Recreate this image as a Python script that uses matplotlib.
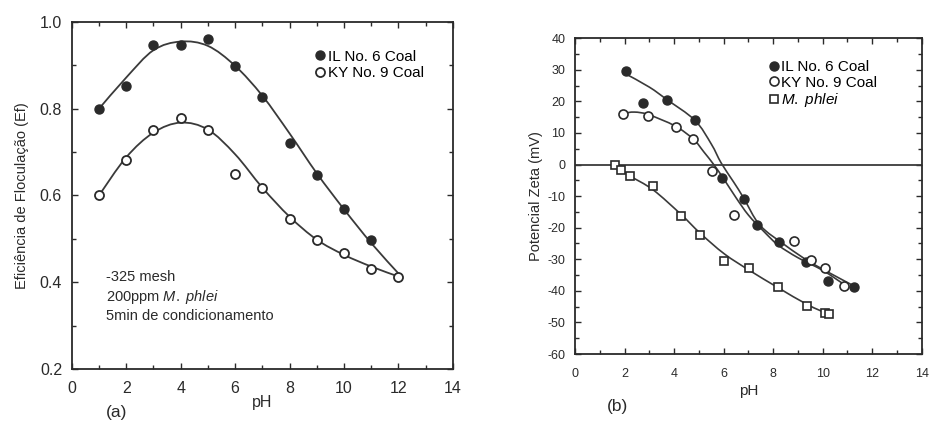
"""
Flocculation efficiency and zeta potential vs pH (M. phlei / coal)
"""

import numpy as np
import matplotlib.pyplot as plt
from matplotlib.path import Path
from matplotlib.patches import PathPatch
from matplotlib.ticker import MultipleLocator

plt.rcParams['font.family'] = ['Liberation Sans', 'DejaVu Sans']
plt.rcParams['mathtext.fontset'] = 'custom'
plt.rcParams['mathtext.rm'] = 'Liberation Sans'
plt.rcParams['mathtext.it'] = 'Liberation Sans:italic'
plt.rcParams['axes.unicode_minus'] = False

# (a) flocculation efficiency
ph_a = [1, 2, 3, 4, 5, 6, 7, 8, 9, 10, 11]
ef_il = [0.80, 0.852, 0.948, 0.948, 0.962, 0.899, 0.828, 0.720, 0.648, 0.568, 0.498]
ph_a_ky = [1, 2, 3, 4, 5, 6, 7, 8, 9, 10, 11, 12]
ef_ky = [0.601, 0.682, 0.751, 0.778, 0.752, 0.650, 0.618, 0.546, 0.498, 0.467, 0.430, 0.413]

# fitted curves
ph_fit_il = [1.0, 2, 3, 4, 5, 6, 7, 8, 9, 10, 11, 12]
fit_il = [0.80, 0.872, 0.935, 0.955, 0.945, 0.899, 0.83, 0.743, 0.651, 0.568, 0.49, 0.42]
ph_fit_ky = [1.0, 2, 3, 4, 5, 6, 7, 8, 9, 10, 11, 12]
fit_ky = [0.60, 0.688, 0.745, 0.768, 0.752, 0.695, 0.618, 0.551, 0.498, 0.463, 0.436, 0.413]

# (b) zeta potential
ph_b_il = [2.06, 2.76, 3.73, 4.83, 5.94, 6.84, 7.34, 8.25, 9.33, 10.2, 11.28]
zeta_il = [29.5, 19.6, 20.3, 14.0, -4.2, -10.8, -19.2, -24.5, -30.8, -36.8, -38.9]
ph_b_ky = [1.95, 2.93, 4.08, 4.75, 5.52, 6.43, 8.86, 9.53, 10.1, 10.87]
zeta_ky = [16.1, 15.2, 11.9, 8.2, -2.0, -16.1, -24.2, -30.3, -32.9, -38.4]
ph_b_mp = [1.63, 1.84, 2.23, 3.15, 4.28, 5.06, 6.03, 7.04, 8.18, 9.37, 10.1, 10.24]
zeta_mp = [0.0, -1.6, -3.7, -6.9, -16.4, -22.2, -30.5, -32.9, -38.9, -44.8, -47.1, -47.4]

ph_fit_b_il = [2.02, 3.0, 3.7, 4.84, 5.5, 5.9, 6.4, 6.8, 7.3, 7.7, 8.3, 9.3, 10.2, 11.3]
fit_b_il = [28.8, 24.5, 20.6, 14.0, 6.5, 0.5, -5.5, -10.5, -17.5, -21.0, -24.5, -30.0, -34.0, -38.6]
ph_fit_b_ky = [1.95, 2.4, 2.96, 4.04, 4.78, 5.2, 5.6, 6.0, 6.5, 7.0, 7.6, 8.2, 9.0, 10.0, 10.87]
fit_b_ky = [16.2, 16.6, 15.8, 12.2, 8.0, 4.0, 0.0, -4.5, -10.5, -16.0, -21.0, -25.5, -29.5, -33.5, -38.0]
ph_fit_b_mp = [1.63, 2.2, 3.15, 4.28, 5.06, 6.03, 7.04, 8.18, 9.37, 10.24]
fit_b_mp = [0.0, -3.5, -8.0, -15.8, -21.8, -28.3, -33.5, -38.9, -44.3, -47.4]

INK = '#2a2a2a'
LINE = '#3a3a3a'


def smooth_curve(ax, xs, ys, lw=1.3):
    """Smooth Bezier line through the read curve points"""
    p = np.column_stack([xs, ys]).astype(float)
    pts = [p[0]]
    codes = [Path.MOVETO]
    n = len(p)
    for i in range(n - 1):
        p0 = p[i - 1] if i > 0 else p[i]
        p3 = p[i + 2] if i + 2 < n else p[i + 1]
        c1 = p[i] + (p[i + 1] - p0) / 6.0
        c2 = p[i + 1] - (p3 - p[i]) / 6.0
        pts += [c1, c2, p[i + 1]]
        codes += [Path.CURVE4] * 3
    ax.add_patch(PathPatch(Path(pts, codes), fill=False, edgecolor=LINE, lw=lw))


def style_axes(ax, size, pad):
    for s in ax.spines.values():
        s.set_linewidth(1.3)
        s.set_color(INK)
    ax.tick_params(which='both', direction='in', top=True, right=True,
                   colors=INK, labelsize=size, width=1.0, pad=pad)
    ax.tick_params(which='major', length=4)
    ax.tick_params(which='minor', length=3)


fig = plt.figure(figsize=(9.32, 4.24), dpi=100)
ax1 = fig.add_axes([0.077, 0.130, 0.409, 0.818])
ax2 = fig.add_axes([0.617, 0.165, 0.372, 0.745])

# ---- (a)
smooth_curve(ax1, ph_fit_il, fit_il)
smooth_curve(ax1, ph_fit_ky, fit_ky)
ax1.plot(ph_a, ef_il, 'o', color=INK, ms=6.5, label='IL No. 6 Coal')
ax1.plot(ph_a_ky, ef_ky, 'o', mfc='white', mec=INK, mew=1.3, ms=6.5, label='KY No. 9 Coal')
ax1.set_xlim(0, 14)
ax1.set_ylim(0.2, 1.0)
ax1.xaxis.set_major_locator(MultipleLocator(2))
ax1.xaxis.set_minor_locator(MultipleLocator(1))
ax1.yaxis.set_major_locator(MultipleLocator(0.2))
ax1.yaxis.set_minor_locator(MultipleLocator(0.1))
style_axes(ax1, 11.5, 7)
ax1.tick_params(axis='x', pad=9)
ax1.set_xlabel('pH', fontsize=11.5, color=INK, labelpad=-1)
ax1.set_ylabel('Eficiência de Floculação (Ef)', fontsize=10.5, color=INK, labelpad=8)
ax1.legend(loc='upper left', bbox_to_anchor=(0.64, 0.92), frameon=False,
           handlelength=0.6, handletextpad=0.2, labelspacing=0.15,
           fontsize=11, borderaxespad=0, borderpad=0)
ax1.text(1.25, 0.412, '-325 mesh', fontsize=10.5, color=INK, va='center')
ax1.text(1.25, 0.366, '200ppm $\\it{M.\\ phlei}$', fontsize=10.5, color=INK, va='center')
ax1.text(1.25, 0.322, '5min de condicionamento', fontsize=10.5, color=INK, va='center')
fig.text(117 / 932, 1 - 412 / 424, '(a)', fontsize=12.5, color=INK, ha='center', va='center')

# ---- (b)
ax2.axhline(0, color=LINE, lw=1.3)
smooth_curve(ax2, ph_fit_b_il, fit_b_il, 1.2)
smooth_curve(ax2, ph_fit_b_ky, fit_b_ky, 1.2)
smooth_curve(ax2, ph_fit_b_mp, fit_b_mp, 1.2)
ax2.plot(ph_b_il, zeta_il, 'o', color=INK, ms=6.5, label='IL No. 6 Coal')
ax2.plot(ph_b_ky, zeta_ky, 'o', mfc='white', mec=INK, mew=1.2, ms=6.5, label='KY No. 9 Coal')
ax2.plot(ph_b_mp, zeta_mp, 's', mfc='white', mec=INK, mew=1.2, ms=6, label='$\\it{M.\\ phlei}$')
ax2.set_xlim(0, 14)
ax2.set_ylim(-60, 40)
ax2.xaxis.set_major_locator(MultipleLocator(2))
ax2.xaxis.set_minor_locator(MultipleLocator(1))
ax2.yaxis.set_major_locator(MultipleLocator(10))
ax2.yaxis.set_minor_locator(MultipleLocator(5))
style_axes(ax2, 9, 7)
ax2.tick_params(axis='x', pad=10)
ax2.set_xlabel('pH', fontsize=11, color=INK, labelpad=3)
ax2.set_ylabel('Potencial Zeta (mV)', fontsize=10.5, color=INK, labelpad=3)
ax2.legend(loc='upper left', bbox_to_anchor=(0.56, 0.93), frameon=False,
           handlelength=0.6, handletextpad=0.2, labelspacing=0.1,
           fontsize=11, borderaxespad=0, borderpad=0)
fig.text(617 / 932, 1 - 406 / 424, '(b)', fontsize=12.5, color=INK, ha='center', va='center')

fig.savefig('out.png', dpi=100)
print("Generated: out.png")
